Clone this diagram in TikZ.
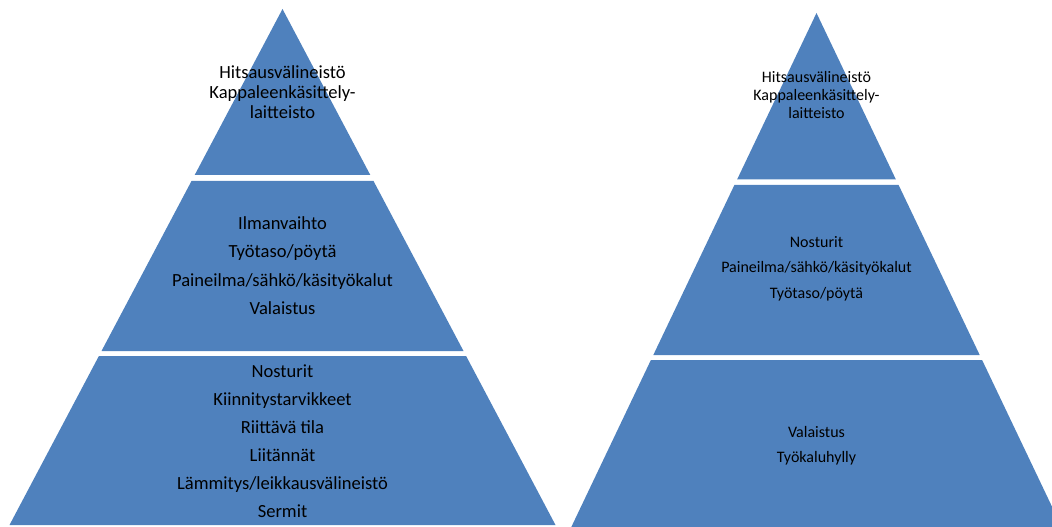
\documentclass[tikz,border=0pt]{standalone}
\usepackage{fontspec}
\setmainfont{Carlito}
\definecolor{tierblue}{HTML}{4F81BD}
\begin{document}
\begin{tikzpicture}[x=0.75pt,y=-0.75pt,
  tier/.style={fill=tierblue},
  bigtxt/.style={align=center,inner sep=0pt,font=\fontsize{13.9}{#1}\selectfont},
  smalltxt/.style={align=center,inner sep=0pt,font=\fontsize{12}{#1}\selectfont}]
\useasboundingbox (0,0) rectangle (1052,527);
\clip (0,0) rectangle (1052,527);
% left pyramid, apex (282.5,9), slope 0.529
\fill[tier] (282.5,9) -- (370.3,175) -- (194.7,175) -- cycle;
\fill[tier] (191.5,181) -- (373.5,181) -- (463.5,351) -- (101.5,351) -- cycle;
\fill[tier] (98.9,356) -- (466.1,356) -- (555.5,525) -- (9.5,525) -- cycle;
% right pyramid, apex (816.5,13), slope 0.477
\fill[tier] (816.5,13) -- (895.9,179.5) -- (737.1,179.5) -- cycle;
\fill[tier] (734.4,185) -- (898.6,185) -- (979.7,355) -- (653.3,355) -- cycle;
\fill[tier] (650.9,360) -- (982.1,360) -- (1061.7,527) -- (571.3,527) -- cycle;
% left labels
\node[bigtxt=15] (ltop) at (282.5,92) {Hitsausvälineistö\\Kappaleenkäsittely-\\laitteisto};
\node[bigtxt=21.4] (lmid) at (282.5,265.5) {Ilmanvaihto\\Työtaso/pöytä\\Paineilma/sähkö/käsityökalut\\Valaistus};
\node[bigtxt=21] (lbot) at (282.5,441) {Nosturit\\Kiinnitystarvikkeet\\Riittävä tila\\Liitännät\\Lämmitys/leikkausvälineistö\\Sermit};
% right labels
\node[smalltxt=13.5] (rtop) at (816.5,95) {Hitsausvälineistö\\Kappaleenkäsittely-\\laitteisto};
\node[smalltxt=19.1] (rmid) at (816.5,268.5) {Nosturit\\Paineilma/sähkö/käsityökalut\\Työtaso/pöytä};
\node[smalltxt=18.75] (rbot) at (816.5,445.5) {Valaistus\\Työkaluhylly};
\end{tikzpicture}
\end{document}
